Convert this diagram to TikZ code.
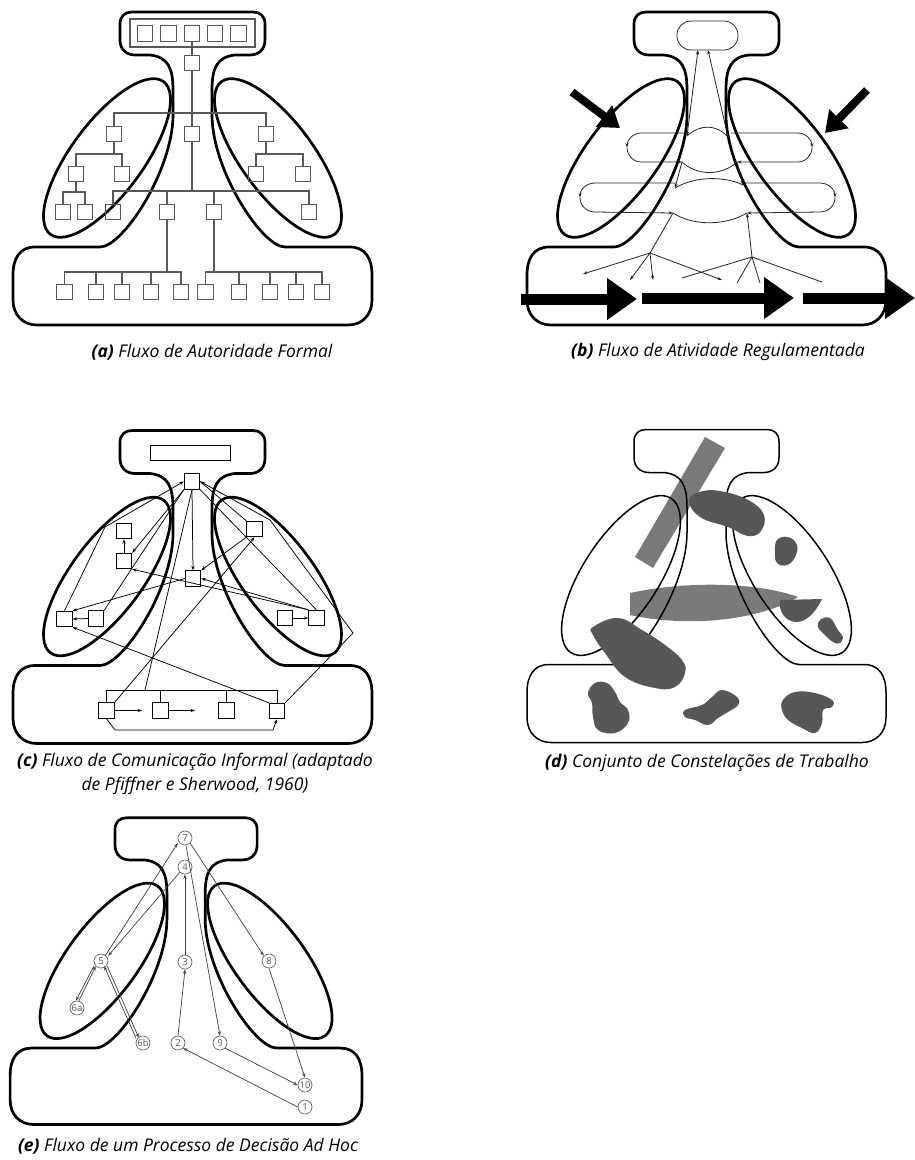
\documentclass[tikz,border=0pt]{standalone}
\usepackage{fontspec}
\setmainfont{Open Sans}
\usetikzlibrary{arrows.meta}
\definecolor{lgray}{HTML}{7A7A7A}
\definecolor{dgray}{HTML}{575757}
\newcommand{\drawsil}[1]{%
 \draw[#1] (132,12) -- (253,12) .. controls (260,12) and (265,16) .. (265,24) -- (265,40)
   .. controls (265,50) and (258,55) .. (250,55) -- (235,55)
   .. controls (217,57) and (212,68) .. (212,90) -- (212,115)
   .. controls (212,170) and (262,247) .. (285,247) -- (350,247)
   .. controls (365,247) and (372,258) .. (372,275) -- (372,300)
   .. controls (372,315) and (362,325) .. (348,325) -- (37,325)
   .. controls (23,325) and (13,315) .. (13,300) -- (13,275)
   .. controls (13,258) and (20,247) .. (35,247) -- (100,247)
   .. controls (123,247) and (173,170) .. (173,115) -- (173,90)
   .. controls (173,68) and (168,57) .. (150,55) -- (135,55)
   .. controls (127,55) and (120,50) .. (120,40) -- (120,24)
   .. controls (120,16) and (125,12) .. (132,12) -- cycle;}
\newcommand{\drawells}[4]{%
 \draw[#1, rotate around={#4:(107,158)}] (107,158) ellipse [x radius=#2pt, y radius=#3pt];
 \draw[#1, rotate around={-#4:(278,158)}] (278,158) ellipse [x radius=#2pt, y radius=#3pt];}
\begin{document}
\begin{tikzpicture}[x=1pt,y=-1pt,
  >={Stealth[length=4.5pt,width=3.2pt]},
  silstyle/.style={line width=2.7pt, line join=round},
  silthin/.style={line width=1.5pt, line join=round},
  sqa/.style={draw=black!65, line width=1.1pt, minimum size=15.5pt, inner sep=0pt},
  lna/.style={draw=black!65, line width=1.1pt},
  lnb/.style={draw=black!85, line width=0.8pt},
  lnc/.style={draw=black, line width=0.75pt},
  sqc/.style={draw=black, line width=0.9pt, minimum size=15.5pt, inner sep=0pt, fill=white},
  lne/.style={draw=black!75, line width=0.7pt},
  circnode/.style={draw=black!60, line width=0.7pt, circle, minimum size=14pt, inner sep=0pt, fill=white,
    font=\fontsize{9.5}{9.5}\selectfont, text=black!65},
  bigar/.style={line width=11pt, -{Triangle[length=30pt,width=40pt]}},
  diagar/.style={line width=8pt, -{Triangle[length=20pt,width=26pt]}},
  captxt/.style={font=\fontsize{17.5}{24}\selectfont\itshape, align=center, inner sep=0pt}]
\useasboundingbox (0,0) rectangle (915,1160);
\fill[white] (0,0) rectangle (915,1160);

% ================= (a) =================
\drawsil{silstyle}
\drawells{silstyle}{95}{36}{53.5}
\node[lna, minimum width=125pt, minimum height=28pt, inner sep=0pt] (aTR) at (192.5,33) {};
\foreach \i/\x in {1/145,2/168.5,3/192,4/215,5/238.5} \node[sqa] (aT\i) at (\x,33.5) {};
\node[sqa] (aM1) at (192,63) {};
\node[sqa] (aM2) at (192,134) {};
\node[sqa] (aLA) at (114,134) {};
\node[sqa] (aRA) at (266,134) {};
\node[sqa] (aLB) at (76,174) {};
\node[sqa] (aLC) at (122,174) {};
\node[sqa] (aLD) at (63,212) {};
\node[sqa] (aLE) at (85,212) {};
\node[sqa] (aRB) at (256,174) {};
\node[sqa] (aRC) at (303,174) {};
\node[sqa] (aC1) at (113,212) {};
\node[sqa] (aC2) at (167,212) {};
\node[sqa] (aC3) at (214,212) {};
\node[sqa] (aC4) at (309,212) {};
\foreach \i/\x in {1/64.5,2/96,3/122,4/151,5/181,6/205.5,7/239,8/270,9/296,10/322}
  \node[sqa] (aB\i) at (\x,292) {};
\coordinate (aH1) at (192,113);
\coordinate (aH2) at (192,191);
\coordinate (aH3) at (0,154);
\coordinate (aH4) at (0,192);
\coordinate (aY) at (0,272);
\draw[lna] (aT3.south) -- (aM1.north);
\draw[lna] (aM1.south) -- (aM2.north);
\draw[lna] (aLA.north) |- (aH1) -| (aRA.north);
\draw[lna] (aM2.south) -- (aH2);
\draw[lna] (aC1.north) |- (aH2) -| (aC4.north);
\draw[lna] (aC2.north) -- (aC2.north |- aH2);
\draw[lna] (aC3.north) -- (aC3.north |- aH2);
\draw[lna] (aLA.south) -- (aLA.south |- aH3);
\draw[lna] (aLB.north) |- (aLC.north |- aH3) -- (aLC.north);
\draw[lna] (aLB.south) -- (aLB.south |- aH4);
\draw[lna] (aLD.north) |- (aLE.north |- aH4) -- (aLE.north);
\draw[lna] (aRA.south) -- (aRA.south |- aH3);
\draw[lna] (aRB.north) |- (aRC.north |- aH3) -- (aRC.north);
\draw[lna] (aC2.south) -- (aC2.south |- aY);
\draw[lna] (aB1.north) |- (aB5.north |- aY) -- (aB5.north);
\foreach \i in {2,3,4} \draw[lna] (aB\i.north) -- (aB\i.north |- aY);
\draw[lna] (aC3.south) -- (aC3.south |- aY);
\draw[lna] (aB6.north) |- (aB10.north |- aY) -- (aB10.north);
\foreach \i in {7,8,9} \draw[lna] (aB\i.north) -- (aB\i.north |- aY);
\node[captxt] (capA) at (212,352) {\textbf{(a)} Fluxo de Autoridade Formal};

% ================= (b) =================
\begin{scope}[shift={(514,0)}]
\drawsil{silstyle}
\drawells{silstyle}{95}{36}{53.5}
\end{scope}
\node[lnb, rounded corners=14pt, minimum width=61pt, minimum height=29pt, inner sep=0pt] (bST) at (707.5,35.5) {};
\coordinate (bsA) at (698,50);
\coordinate (bsB) at (708,50);
\coordinate (buL1) at (687,136);
\coordinate (buR1) at (728,137);
\coordinate (buL2) at (682,162);
\coordinate (buR2) at (737,162);
\coordinate (bdL1) at (675,188);
\coordinate (bdR1) at (743,185);
\coordinate (bdL2) at (673,213);
\coordinate (bdR2) at (747,213);
\draw[lnb,<->] (bsA) -- (buL1);
\draw[lnb,->] (buR1) -- (bsB);
\draw[lnb] (buL1) .. controls (700,124) and (716,124) .. (buR1);
\draw[lnb] (buL2) .. controls (697,176) and (722,176) .. (buR2);
\draw[lnb] (bdL1) .. controls (695,176) and (725,176) .. (bdR1);
\draw[lnb] (bdL2) .. controls (693,226) and (725,226) .. (bdR2);
% upper loops
\coordinate (bulT) at (686,133);
\coordinate (bulE) at (627,147.5);
\draw[lnb,->] (bulT) -- (641,133) .. controls (633,133) and (627,140) .. (bulE);
\draw[lnb,->] (bulE) .. controls (627,155) and (633,162) .. (641,162) -- (buL2);
\coordinate (burT) at (731,133);
\coordinate (burE) at (812,147.5);
\draw[lnb,->] (burT) -- (798,133) .. controls (806,133) and (812,140) .. (burE);
\draw[lnb,->] (burE) .. controls (812,155) and (806,162) .. (798,162) -- (buR2);
% lower loops
\coordinate (bdlT) at (676,183);
\coordinate (bdlE) at (580,197.5);
\draw[lnb,->] (bdlT) -- (595,183) .. controls (586,183) and (580,190) .. (bdlE);
\draw[lnb,->] (bdlE) .. controls (580,205) and (586,212) .. (595,212) -- (bdL2);
\coordinate (bdrT) at (742,183);
\coordinate (bdrE) at (835,197.5);
\draw[lnb,->] (bdrT) -- (820,183) .. controls (829,183) and (835,190) .. (bdrE);
\draw[lnb,->] (bdrE) .. controls (835,205) and (829,212) .. (820,212) -- (bdR2);
\draw[lnb,->] (buL2) -- (bdL1);
\draw[lnb,->] (buR2) -- (bdR1);
% trees
\coordinate (btl) at (650,253);
\coordinate (btr) at (752,257);
\coordinate (bl1) at (583,274);
\coordinate (bl2) at (630,280);
\coordinate (bl3) at (653,280);
\coordinate (bl4) at (722,280);
\coordinate (br1) at (682,278);
\coordinate (br2) at (737,283);
\coordinate (br3) at (760,283);
\coordinate (br4) at (822,282);
\draw[lnb] (bdL2) -- (btl);
\draw[lnb,->] (btl) -- (bl1);
\draw[lnb,->] (btl) -- (bl2);
\draw[lnb,->] (btl) -- (bl3);
\draw[lnb,->] (btl) -- (bl4);
\draw[lnb,->] (btr) -- (bdR2);
\draw[lnb] (btr) -- (br1);
\draw[lnb] (btr) -- (br2);
\draw[lnb] (btr) -- (br3);
\draw[lnb] (btr) -- (br4);
% big arrows
\coordinate (bA1s) at (521,299); \coordinate (bA1e) at (637,299);
\coordinate (bA2s) at (642,298); \coordinate (bA2e) at (794,298);
\coordinate (bA3s) at (803,298); \coordinate (bA3e) at (915,298);
\draw[bigar] (bA1s) -- (bA1e);
\draw[bigar] (bA2s) -- (bA2e);
\draw[bigar] (bA3s) -- (bA3e);
\coordinate (bDLs) at (572,92); \coordinate (bDLe) at (620,128);
\coordinate (bDRs) at (867,90); \coordinate (bDRe) at (825,133);
\draw[diagar] (bDLs) -- (bDLe);
\draw[diagar] (bDRs) -- (bDRe);
\node[captxt] (capB) at (718,352) {\textbf{(b)} Fluxo de Atividade Regulamentada};

% ================= (c) =================
\begin{scope}[shift={(0,418.5)}]
\drawsil{silstyle}
\drawells{silstyle}{95}{36}{53.5}
\end{scope}
\node[lnc, minimum width=80pt, minimum height=15pt, inner sep=0pt] (cTR) at (190,452.5) {};
\node[sqc] (c0) at (192,481.5) {};
\node[sqc] (cL1) at (124,531) {};
\node[sqc] (cL2) at (124,561) {};
\node[sqc] (cL3) at (64.5,619) {};
\node[sqc] (cL4) at (96,618.5) {};
\node[sqc] (cM) at (193,578.5) {};
\node[sqc] (cR1) at (254.5,529) {};
\node[sqc] (cR2) at (285,618) {};
\node[sqc] (cR3) at (316.5,618) {};
\node[sqc] (cB1) at (106.5,710.5) {};
\node[sqc] (cB2) at (160.5,710.5) {};
\node[sqc] (cB3) at (226.5,710.5) {};
\node[sqc] (cB4) at (277,711) {};
\coordinate (cK1) at (105,527);
\coordinate (cHB) at (145,690);
\coordinate (cK2) at (353,633);
\coordinate (cK3) at (270,520);
\coordinate (cE1) at (142,710.5);
\coordinate (cE2) at (195,710.5);
\coordinate (cK4) at (115,730);
\coordinate (cK5) at (273,730);
\draw[lnc,->] (cL3.north) -- (cK1) -- (c0.west);
\draw[lnc,->] (c0.south west) -- (cL2.north east);
\draw[lnc] (c0.south) -- (cHB);
\draw[lnc,->] (c0.south) -- (cM.north);
\draw[lnc] (cL4.north east) -- (c0.south west);
\draw[lnc,->] (cM.west) -- (cL3.north east);
\draw[lnc,->] (cL4.west) -- (cL3.east);
\draw[lnc,->] (cL2.north) -- (cL1.south);
\draw[lnc,->] (cB4.north west) -- (cL3.south east);
\draw[lnc,->] (cB1.north east) -- (cR1.south);
\draw[lnc,->] (cR1.south west) -- (cM.north east);
\draw[lnc,->] (cB4.north east) -- (cK2) -- (cK3) -- (c0.east);
\draw[lnc] (c0.east) -- (cR1.north west);
\draw[lnc,->] (cR3.north west) -- (cM.east);
\draw[lnc,->] (cR3.north west) -- (cL2.south east);
\draw[lnc] (c0.south east) -- (cR3.north);
\draw[lnc,->] (cR2.east) -- (cR3.west);
\draw[lnc] (cB1.north) |- (cB4.north |- cHB) -- (cB4.north);
\draw[lnc] (cB2.north) -- (cB2.north |- cHB);
\draw[lnc] (cB3.north) -- (cB3.north |- cHB);
\draw[lnc,->] (cB1.east) -- (cE1);
\draw[lnc,->] (cB2.east) -- (cE2);
\draw[lnc,->] (cB1.south) -- (cK4) -- (cK5) -- (cB4.south);
\node[captxt] (capC) at (195,774) {\textbf{(c)} Fluxo de Comunicação Informal (adaptado\\de Pfiffner e Sherwood, 1960)};

% ================= (d) =================
\fill[lgray] (705,437) -- (725,448) -- (653,568) -- (635,557) -- cycle;
\fill[lgray] (630,593) .. controls (690,580) and (760,583) .. (798,597) .. controls (760,620) and (690,628) .. (630,615) -- cycle;
\begin{scope}[shift={(514,417.5)}]
\drawsil{silthin}
\drawells{silthin}{92}{38}{57}
\end{scope}
\fill[dgray] plot[smooth cycle, tension=0.7] coordinates {(689,500) (703,491) (725,492) (750,501) (764,515) (761,531) (748,536) (728,527) (700,517)};
\fill[dgray] (780,600) -- (822,599) .. controls (815,614) and (805,622) .. (797,622) .. controls (786,622) and (778,612) .. (780,600) -- cycle;
\fill[dgray] plot[smooth cycle, tension=0.7] coordinates {(777,540) (788,537) (797,545) (795,557) (787,565) (777,563) (775,552)};
\fill[dgray] plot[smooth cycle, tension=0.7] coordinates {(820,620) (830,618) (838,630) (843,637) (840,643) (833,642) (823,633) (818,627)};
\fill[dgray] plot[smooth cycle, tension=0.7] coordinates {(593,627) (618,618) (642,630) (665,645) (682,660) (685,673) (675,687) (655,688) (625,677) (605,653) (593,635)};
\fill[dgray] plot[smooth cycle, tension=0.7] coordinates {(595,683) (607,683) (615,692) (620,702) (628,710) (628,723) (615,733) (598,730) (593,717) (592,703) (588,693)};
\fill[dgray] plot[smooth cycle, tension=0.7] coordinates {(685,710) (702,705) (712,697) (722,690) (737,697) (738,705) (728,712) (718,718) (708,725) (695,720) (685,717)};
\fill[dgray] plot[smooth cycle, tension=0.7] coordinates {(783,700) (795,692) (815,693) (832,700) (832,707) (823,710) (822,723) (815,733) (802,728) (788,720) (782,710)};
\node[captxt] (capD) at (707,763) {\textbf{(d)} Conjunto de Constelações de Trabalho};

% ================= (e) =================
\begin{scope}[shift={(-2.6,806)}, scale=0.98]
\drawsil{silstyle}
\drawells{silstyle}{95}{36}{53.5}
\end{scope}
\node[circnode] (e7) at (185,838) {7};
\node[circnode] (e4) at (185,867) {4};
\node[circnode] (e5) at (101,961) {5};
\node[circnode] (e3) at (185,962) {3};
\node[circnode] (e8) at (269,961) {8};
\node[circnode] (e6a) at (77,1008) {6a};
\node[circnode] (e6b) at (143,1043) {6b};
\node[circnode] (e2) at (178,1043) {2};
\node[circnode] (e9) at (220,1043) {9};
\node[circnode] (e10) at (305,1085) {10};
\node[circnode] (e1) at (305,1107) {1};
\draw[lne,->] ([xshift=-1pt]e5.north east) -- ([xshift=-2pt]e7.south west);
\draw[lne,->] (e4.south west) -- ([xshift=2pt]e5.north east);
\draw[lne,->] (e3.north) -- (e4.south);
\draw[lne,->] (e2.north) -- (e3.south);
\draw[lne,->] (e1.west) -- (e2.south east);
\draw[lne,->] (e7.south east) -- (e8.north west);
\draw[lne,->] ([xshift=1pt]e7.south) -- (e9.north);
\draw[lne,->] (e9.south east) -- (e10.west);
\draw[lne,->] (e8.south) -- (e10.north);
\draw[lne,->] ([xshift=-2pt]e5.south west) -- ([xshift=-1pt]e6a.north);
\draw[lne,->] ([xshift=2pt]e6a.north) -- ([xshift=0pt]e5.south west);
\draw[lne,->] ([xshift=1pt]e5.south east) -- ([xshift=1pt]e6b.north west);
\draw[lne,->] ([xshift=-2pt]e6b.north west) -- ([xshift=-2pt]e5.south east);
\node[captxt] (capE) at (188,1146) {\textbf{(e)} Fluxo de um Processo de Decisão Ad Hoc};
\end{tikzpicture}
\end{document}
